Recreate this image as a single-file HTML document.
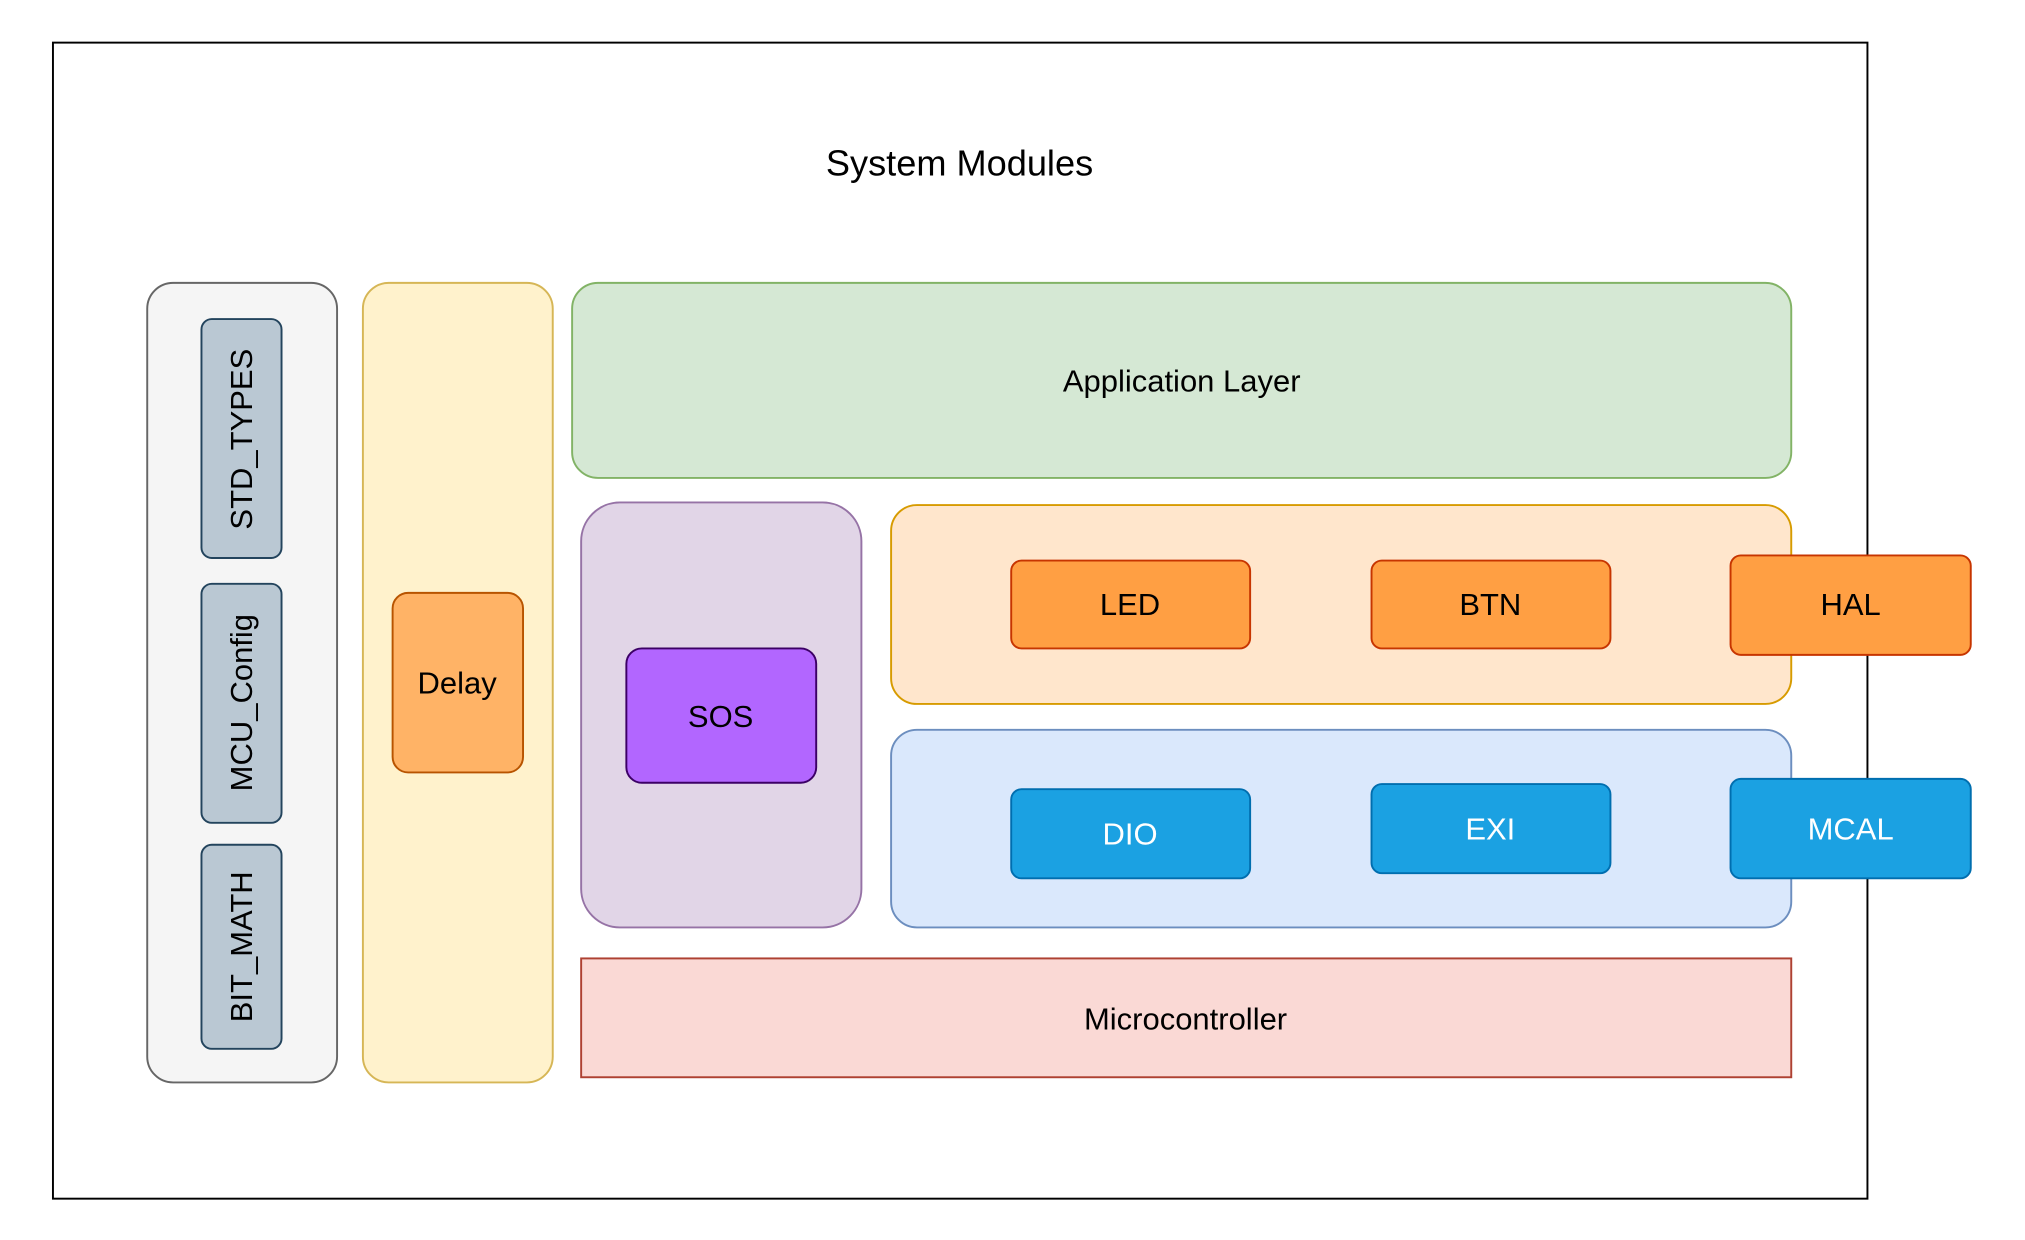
<!DOCTYPE html>
<html><head><meta charset="utf-8"><style>
html,body{margin:0;padding:0;background:#fff;width:2025px;height:1240px;overflow:hidden}
text{font-family:"Liberation Sans",Arial,sans-serif;font-size:24px;fill:#000}
</style></head><body>
<svg width="2025" height="1240" viewBox="0 0 1568 960" preserveAspectRatio="none" xmlns="http://www.w3.org/2000/svg">
<rect x="41" y="33" width="1405" height="895" fill="#fff" stroke="#000" stroke-width="1.5"/>
<text x="743" y="136" text-anchor="middle" style="font-size:28px">System Modules</text>

<rect x="114" y="219" width="147" height="619" rx="20" fill="#f5f5f5" stroke="#666" stroke-width="1.5"/>
<rect x="156" y="247" width="62" height="185" rx="8" fill="#bac8d3" stroke="#23445d" stroke-width="1.5"/>
<text transform="translate(195,340) rotate(-90)" text-anchor="middle">STD_TYPES</text>
<rect x="156" y="452" width="62" height="185" rx="8" fill="#bac8d3" stroke="#23445d" stroke-width="1.5"/>
<text transform="translate(195,544) rotate(-90)" text-anchor="middle">MCU_Config</text>
<rect x="156" y="654" width="62" height="158" rx="8" fill="#bac8d3" stroke="#23445d" stroke-width="1.5"/>
<text transform="translate(195,733) rotate(-90)" text-anchor="middle">BIT_MATH</text>

<rect x="281" y="219" width="147" height="619" rx="20" fill="#fff2cc" stroke="#d6b656" stroke-width="1.5"/>
<rect x="304" y="459" width="101" height="139" rx="12" fill="#ffb366" stroke="#b85400" stroke-width="1.5"/>
<text x="354" y="537" text-anchor="middle">Delay</text>

<rect x="443" y="219" width="944" height="151" rx="20" fill="#d5e8d4" stroke="#82b366" stroke-width="1.5"/>
<text x="915" y="303" text-anchor="middle">Application Layer</text>

<rect x="450" y="389" width="217" height="329" rx="30" fill="#e1d5e7" stroke="#9673a6" stroke-width="1.5"/>
<rect x="485" y="502" width="147" height="104" rx="12" fill="#b266ff" stroke="#3c0066" stroke-width="1.5"/>
<text x="558" y="563" text-anchor="middle">SOS</text>

<rect x="690" y="391" width="697" height="154" rx="20" fill="#ffe6cc" stroke="#d79b00" stroke-width="1.5"/>
<rect x="783" y="434" width="185" height="68" rx="8" fill="#ff9f43" stroke="#c73500" stroke-width="1.5"/>
<text x="875" y="476" text-anchor="middle">LED</text>
<rect x="1062" y="434" width="185" height="68" rx="8" fill="#ff9f43" stroke="#c73500" stroke-width="1.5"/>
<text x="1154" y="476" text-anchor="middle">BTN</text>
<rect x="1340" y="430" width="186" height="77" rx="8" fill="#ff9f43" stroke="#c73500" stroke-width="1.5"/>
<text x="1433" y="476" text-anchor="middle">HAL</text>

<rect x="690" y="565" width="697" height="153" rx="20" fill="#dae8fc" stroke="#6c8ebf" stroke-width="1.5"/>
<rect x="783" y="611" width="185" height="69" rx="8" fill="#1ba1e2" stroke="#006eaf" stroke-width="1.5"/>
<text x="875" y="654" text-anchor="middle" style="fill:#fff">DIO</text>
<rect x="1062" y="607" width="185" height="69" rx="8" fill="#1ba1e2" stroke="#006eaf" stroke-width="1.5"/>
<text x="1154" y="650" text-anchor="middle" style="fill:#fff">EXI</text>
<rect x="1340" y="603" width="186" height="77" rx="8" fill="#1ba1e2" stroke="#006eaf" stroke-width="1.5"/>
<text x="1433" y="650" text-anchor="middle" style="fill:#fff">MCAL</text>

<rect x="450" y="742" width="937" height="92" fill="#fad9d5" stroke="#ae4132" stroke-width="1.5"/>
<text x="918" y="797" text-anchor="middle">Microcontroller</text>
</svg>
</body></html>
